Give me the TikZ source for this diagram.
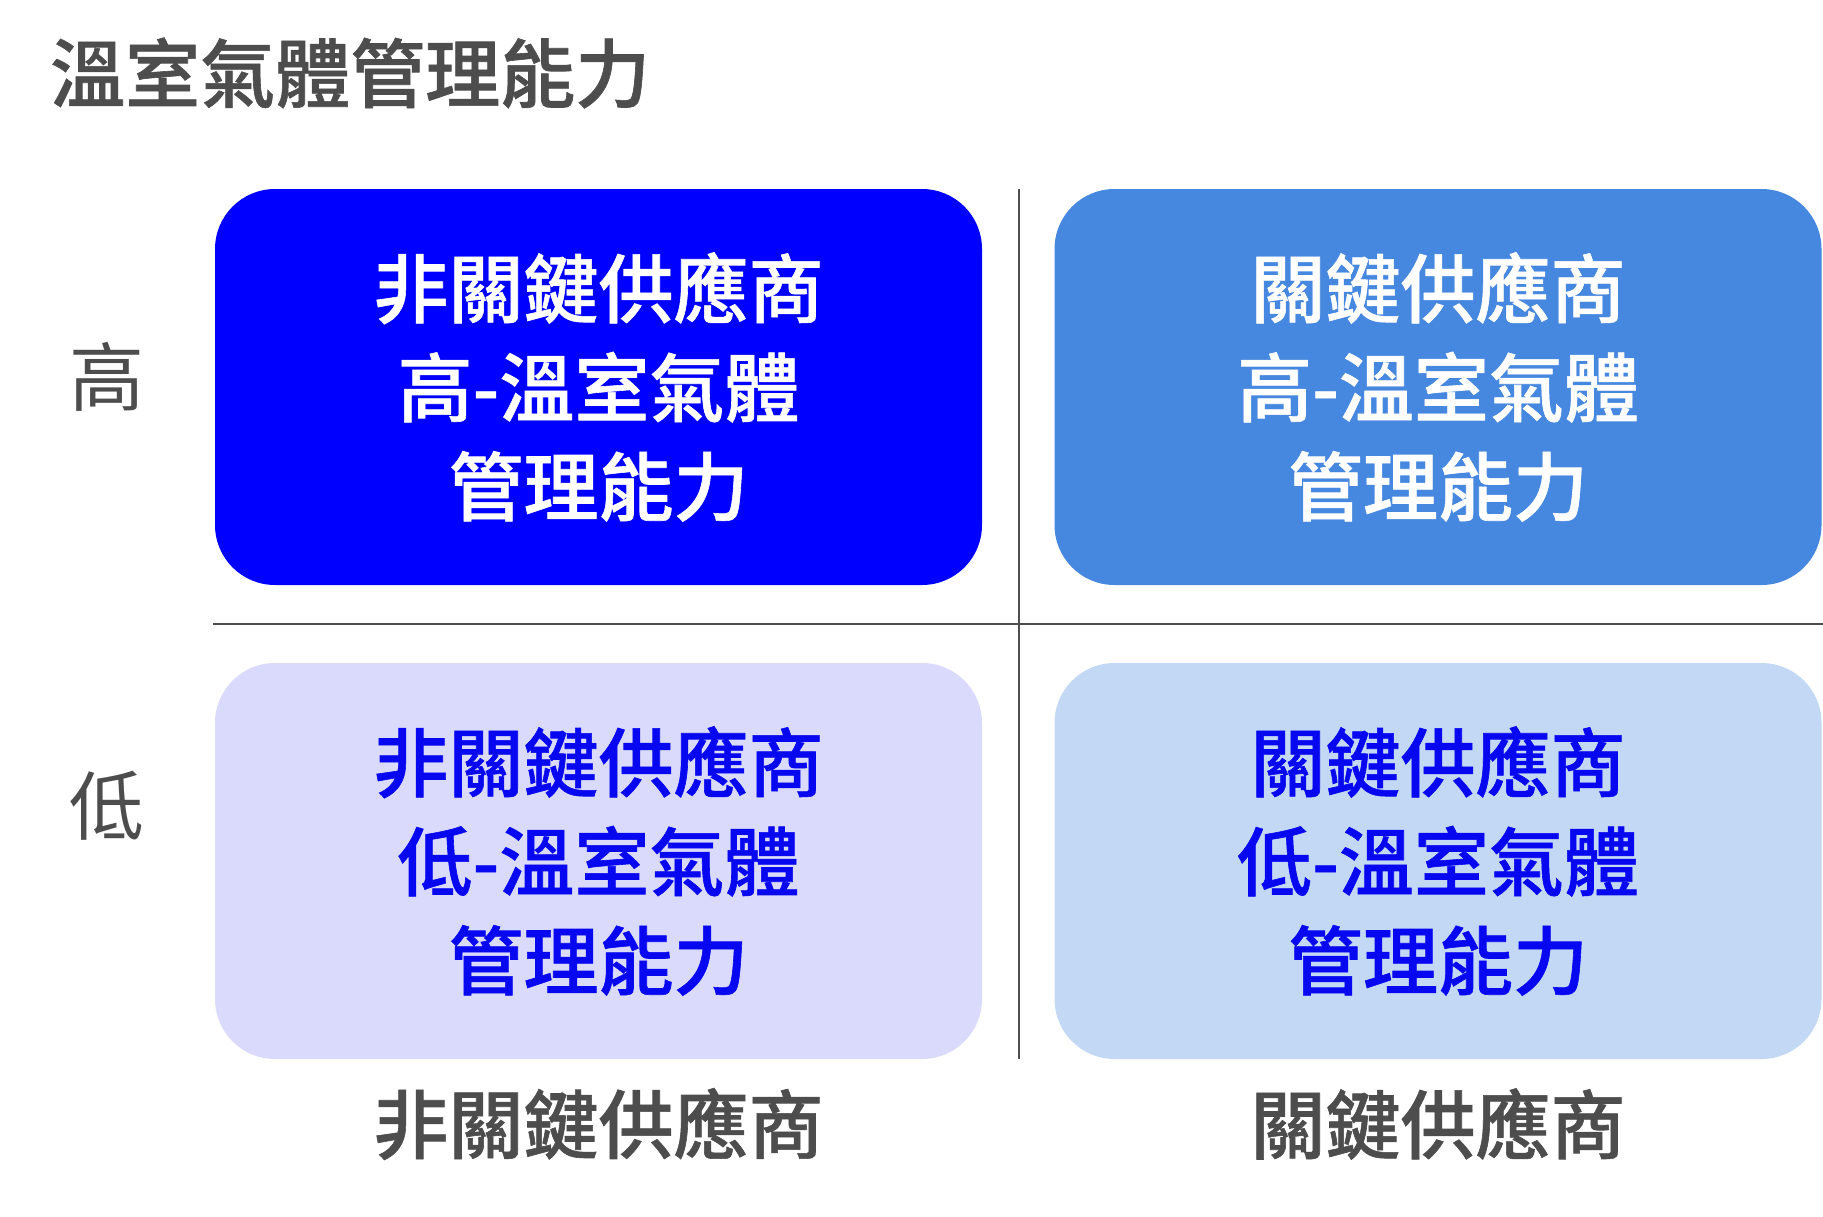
\documentclass[tikz,border=0pt]{standalone}
\usepackage{fontspec}
\newfontfamily\cjk{Noto Sans CJK TC}
\newfontfamily\cjkm{Noto Sans CJK TC Medium}[FakeBold=0.8]
\definecolor{txtgray}{RGB}{77,77,77}
\definecolor{boxA}{RGB}{0,0,255}
\definecolor{boxB}{RGB}{70,135,224}
\definecolor{boxC}{RGB}{218,218,252}
\definecolor{boxD}{RGB}{195,216,245}
\definecolor{deepblue}{RGB}{8,8,240}
\tikzset{
  quad/.style={rounded corners=60pt, minimum width=767pt, minimum height=396pt, inner sep=0pt,
    align=center, font=\cjkm\fontsize{75}{99}\selectfont},
  axis/.style={draw=txtgray, line width=2pt},
  lbl/.style={text=txtgray, inner sep=0pt, font=\cjk\fontsize{75}{90}\selectfont},
  blbl/.style={text=txtgray, inner sep=0pt, font=\cjkm\fontsize{75}{90}\selectfont}
}
\begin{document}
\begin{tikzpicture}[x=1pt,y=-1pt]
\useasboundingbox[fill=white] (0,0) rectangle (1823,1216);
% title
\node[blbl, anchor=west] (title) at (50,73) {溫室氣體管理能力};
% axes
\coordinate (vtop) at (1019,189);
\coordinate (vbot) at (1019,1059);
\coordinate (hleft) at (213,624);
\coordinate (hright) at (1823,624);
\draw[axis] (vtop) -- (vbot);
\draw[axis] (hleft) -- (hright);
% quadrants
\node[quad, fill=boxA, text=white] (tl) at (598.5,387) {非關鍵供應商\\高-溫室氣體\\管理能力};
\node[quad, fill=boxB, text=white] (tr) at (1438,387) {關鍵供應商\\高-溫室氣體\\管理能力};
\node[quad, fill=boxC, text=deepblue] (bl) at (598.5,861) {非關鍵供應商\\低-溫室氣體\\管理能力};
\node[quad, fill=boxD, text=deepblue] (br) at (1438,861) {關鍵供應商\\低-溫室氣體\\管理能力};
% axis labels
\node[lbl] (high) at (107,377) {高};
\node[lbl] (low) at (107,806) {低};
\node[blbl] (xnon) at (598.5,1124) {非關鍵供應商};
\node[blbl] (xkey) at (1438,1124) {關鍵供應商};
\end{tikzpicture}
\end{document}
